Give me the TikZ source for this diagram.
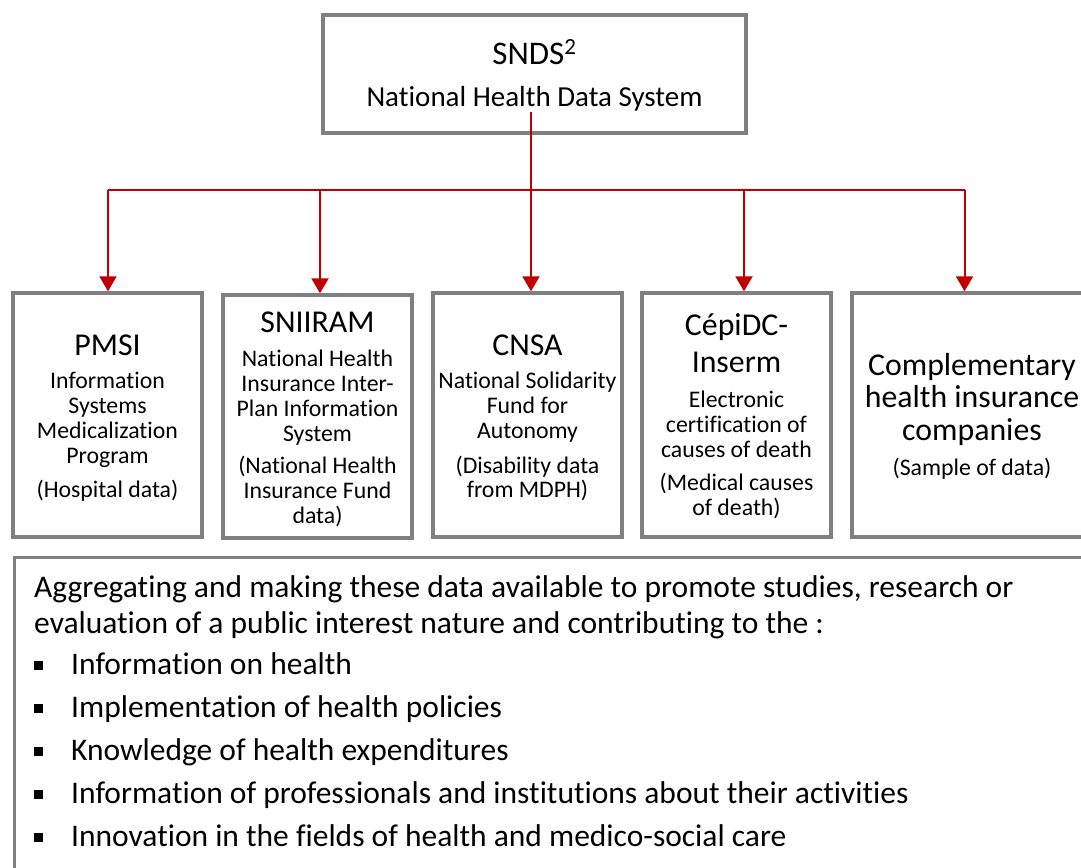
\documentclass[tikz,border=0pt]{standalone}
\usepackage{fontspec}
\setmainfont{Carlito}[Ligatures=NoCommon]
\usetikzlibrary{arrows.meta}
\definecolor{boxgray}{RGB}{128,128,128}
\definecolor{linkred}{RGB}{192,0,0}
\begin{document}
\begin{tikzpicture}[x=1pt,y=-1pt,
  box/.style={draw=boxgray, line width=3.4pt, fill=white, inner sep=0pt},
  link/.style={draw=linkred, line width=2pt},
  arr/.style={link, -{Triangle[width=17pt,length=15pt]}},
  ttl/.style={anchor=base, inner sep=0pt, font=\fontsize{31.8}{33}\selectfont},
  sub/.style={anchor=base, inner sep=0pt, font=\fontsize{23.8}{25}\selectfont},
  para/.style={anchor=base west, inner sep=0pt, font=\fontsize{31.5}{35}\selectfont},
  bul/.style={fill=black, inner sep=0pt, minimum width=9pt, minimum height=8.5pt}
]
\useasboundingbox (0,0) rectangle (1081,867);
\clip (0,0) rectangle (1081,867);

% top box
\node[box, minimum width=423pt, minimum height=118pt] (snds) at (534.5,74) {};
\node[anchor=base, inner sep=0pt, font=\fontsize{33}{36}\selectfont] (snds-t) at (534.5,64) {SNDS\textsuperscript{2}};
\node[anchor=base, inner sep=0pt, font=\fontsize{29}{32}\selectfont] (snds-s) at (534.5,106) {National Health Data System};

% source boxes
\node[box, minimum width=189pt, minimum height=244pt] (pmsi) at (107.5,415) {};
\node[box, minimum width=189pt, minimum height=243pt] (sniiram) at (317.5,416.5) {};
\node[box, minimum width=189pt, minimum height=244pt] (cnsa) at (527.5,415) {};
\node[box, minimum width=189pt, minimum height=244pt] (cepi) at (736.5,415) {};
\node[box, minimum width=248pt, minimum height=244pt] (compl) at (976,415) {};

% PMSI
\node[ttl] (pmsi-t) at (107.5,355) {PMSI};
\node[sub] (pmsi-1) at (107.5,388) {Information};
\node[sub] (pmsi-2) at (107.5,413) {Systems};
\node[sub] (pmsi-3) at (107.5,438) {Medicalization};
\node[sub] (pmsi-4) at (107.5,463) {Program};
\node[sub] (pmsi-5) at (107.5,497) {(Hospital data)};

% SNIIRAM
\node[ttl] (sni-t) at (317.5,332) {SNIIRAM};
\node[sub] (sni-1) at (317.5,366) {National Health};
\node[sub] (sni-2) at (317.5,391) {Insurance Inter-};
\node[sub] (sni-3) at (317.5,416) {Plan Information};
\node[sub] (sni-4) at (317.5,441) {System};
\node[sub] (sni-5) at (317.5,473) {(National Health};
\node[sub] (sni-6) at (317.5,498) {Insurance Fund};
\node[sub] (sni-7) at (317.5,523) {data)};

% CNSA
\node[ttl] (cnsa-t) at (527.5,355) {CNSA};
\node[sub] (cnsa-1) at (527.5,388) {National Solidarity};
\node[sub] (cnsa-2) at (527.5,413) {Fund for};
\node[sub] (cnsa-3) at (527.5,438) {Autonomy};
\node[sub] (cnsa-4) at (527.5,473) {(Disability data};
\node[sub] (cnsa-5) at (527.5,497) {from MDPH)};

% CepiDC
\node[ttl] (cepi-t) at (736.5,335) {CépiDC-};
\node[ttl] (cepi-u) at (736.5,372) {Inserm};
\node[sub] (cepi-1) at (736.5,407) {Electronic};
\node[sub] (cepi-2) at (736.5,432) {certification of};
\node[sub] (cepi-3) at (736.5,457) {causes of death};
\node[sub] (cepi-4) at (736.5,490) {(Medical causes};
\node[sub] (cepi-5) at (736.5,515) {of death)};

% Complementary
\node[ttl] (compl-t) at (972,375) {Complementary};
\node[ttl] (compl-u) at (972,407) {health insurance};
\node[ttl] (compl-v) at (972,440) {companies};
\node[sub] (compl-1) at (972,475) {(Sample of data)};

% connectors
\coordinate (hub) at (531,112);
\coordinate (b1) at (108,190);
\coordinate (b2) at (320,190);
\coordinate (b3) at (531,190);
\coordinate (b4) at (744,190);
\coordinate (b5) at (964.5,190);
\draw[link] (hub) -- (b3);
\draw[link] (b1) -- (b5);
\draw[arr] (b1) -- (b1 |- pmsi.north);
\draw[arr] (b2) -- (b2 |- sniiram.north);
\draw[arr] (b3) -- (b3 |- cnsa.north);
\draw[arr] (b4) -- (b4 |- cepi.north);
\draw[arr] (b5) -- (b5 |- compl.north);

% bottom box
\node[box, anchor=north west, minimum width=1100pt, minimum height=340pt] (aims) at (12.5,555.5) {};
\node[para] (p1) at (34,597) {Aggregating and making these data available to promote studies, research or};
\node[para] (p2) at (34,633) {evaluation of a public interest nature and contributing to the :};
\node[bul] (q1) at (38,665.5) {};
\node[para] (l1) at (71,674) {Information on health};
\node[bul] (q2) at (38,708.5) {};
\node[para] (l2) at (71,717) {Implementation of health policies};
\node[bul] (q3) at (38,751.5) {};
\node[para] (l3) at (71,760) {Knowledge of health expenditures};
\node[bul] (q4) at (38,794.5) {};
\node[para] (l4) at (71,803) {Information of professionals and institutions about their activities};
\node[bul] (q5) at (38,837.5) {};
\node[para] (l5) at (71,846) {Innovation in the fields of health and medico-social care};
\end{tikzpicture}
\end{document}
